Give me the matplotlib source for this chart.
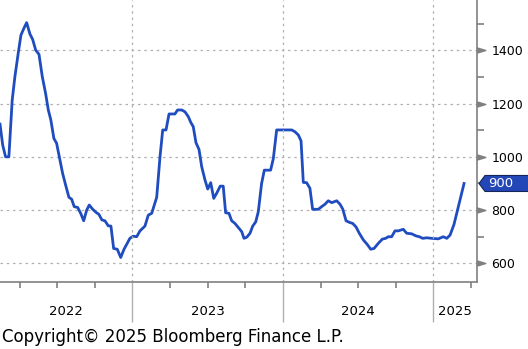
import matplotlib
matplotlib.use('Agg')
from matplotlib import pyplot as plt
from matplotlib.path import Path
from matplotlib.patches import Polygon
from matplotlib.transforms import blended_transform_factory, IdentityTransform

# time as decimal years
t = [2022.120, 2022.138, 2022.157, 2022.179, 2022.201, 2022.219, 2022.241, 2022.259,
     2022.279, 2022.297, 2022.319, 2022.337, 2022.357, 2022.379, 2022.401, 2022.423,
     2022.441, 2022.458, 2022.478, 2022.496, 2022.518, 2022.536, 2022.556, 2022.578,
     2022.596, 2022.613, 2022.636, 2022.656, 2022.676, 2022.696, 2022.713, 2022.736,
     2022.757, 2022.777, 2022.797, 2022.817, 2022.839, 2022.857, 2022.875, 2022.899,
     2022.922, 2022.944, 2022.983, 2023.005, 2023.028, 2023.050, 2023.083, 2023.105,
     2023.128, 2023.161, 2023.183, 2023.201, 2023.223, 2023.243, 2023.282, 2023.300,
     2023.327, 2023.349, 2023.371, 2023.387, 2023.404, 2023.422, 2023.442, 2023.460,
     2023.482, 2023.500, 2023.520, 2023.540, 2023.561, 2023.583, 2023.603, 2023.619,
     2023.641, 2023.659, 2023.681, 2023.703, 2023.726, 2023.741, 2023.759, 2023.781,
     2023.799, 2023.819, 2023.836, 2023.858, 2023.876, 2023.918, 2023.936, 2023.958,
     2024.058, 2024.080, 2024.102, 2024.120, 2024.135, 2024.157, 2024.179, 2024.197,
     2024.235, 2024.257, 2024.279, 2024.301, 2024.324, 2024.357, 2024.379, 2024.397,
     2024.419, 2024.441, 2024.463, 2024.485, 2024.507, 2024.534, 2024.560, 2024.583,
     2024.605, 2024.633, 2024.660, 2024.682, 2024.700, 2024.722, 2024.744, 2024.766,
     2024.799, 2024.822, 2024.855, 2024.884, 2024.906, 2024.928, 2024.955, 2024.988,
     2025.032, 2025.065, 2025.088, 2025.110, 2025.136, 2025.165, 2025.203]
vals = [1123, 1044, 1000, 1000, 1213, 1301, 1389, 1457,
        1483, 1504, 1461, 1441, 1401, 1385, 1301, 1238,
        1176, 1138, 1069, 1051, 988, 938, 894, 848,
        841, 813, 810, 788, 760, 800, 819, 803,
        792, 784, 763, 760, 741, 740, 656, 653,
        622, 653, 694, 702, 700, 722, 740, 781,
        788, 848, 1000, 1101, 1101, 1161, 1161, 1176,
        1176, 1169, 1151, 1130, 1113, 1053, 1028, 963,
        913, 879, 903, 844, 865, 890, 890, 790,
        788, 760, 750, 735, 719, 694, 698, 713,
        740, 756, 794, 900, 950, 950, 994, 1101,
        1101, 1094, 1082, 1060, 904, 903, 882, 803,
        803, 813, 822, 835, 828, 835, 822, 804,
        760, 754, 750, 737, 713, 688, 671, 653,
        656, 675, 691, 694, 700, 700, 722, 722,
        728, 713, 711, 703, 700, 694, 696, 694,
        692, 700, 694, 706, 746, 813, 900]

years = [2022, 2023, 2024, 2025]
major_y = [600, 800, 1000, 1200, 1400]
minor_y = [700, 900, 1100, 1300, 1500]
x0, x1 = 2022.120, 2025.289
blue = '#1f4cbf'
grey = '#808080'

fig = plt.figure(figsize=(5.28, 3.49), dpi=100)
ax = fig.add_axes([0, 1 - 282 / 349, 477 / 528, 282 / 349])
ax.plot(t, vals, color=blue, lw=2)
ax.set_xlim(x0, x1)
ax.set_ylim(530, 1589)

for s in ['top', 'left']:
    ax.spines[s].set_visible(False)
for s in ['bottom', 'right']:
    ax.spines[s].set_color(grey)
    ax.spines[s].set_linewidth(1.2)

# y axis on right, triangles for majors
ax.yaxis.tick_right()
ax.set_yticks(major_y)
ax.set_yticks(minor_y, minor=True)
ax.tick_params(axis='y', which='major', length=0, pad=10.5, labelsize=9)
ax.tick_params(axis='y', which='minor', length=5, color=grey, width=1.2)
ax.grid(axis='y', which='major', ls=(0, (2, 3)), color='#b0b0b0', lw=0.9)

tri = Path([(0, -0.3), (1, 0), (0, 0.3), (0, -0.3)],
           [Path.MOVETO, Path.LINETO, Path.LINETO, Path.CLOSEPOLY])
yb = blended_transform_factory(ax.transAxes, ax.transData)
ax.plot([1] * len(major_y), major_y, transform=yb, ls='none',
        marker=tri, ms=12, color=grey, clip_on=False)

# x axis: year separators and quarter ticks
ax.set_xticks(years[1:])
ax.set_xticklabels([])
ax.set_xticks([y + q for y in years for q in (0.25, 0.5, 0.75) if x0 < y + q < x1 + 0.01],
              minor=True)
ax.tick_params(axis='x', which='major', length=29, color='#b0b0b0', width=1)
ax.tick_params(axis='x', which='minor', length=4, color=grey, width=1.2)
for y in years[1:]:
    ax.axvline(y, ls=(0, (2, 3)), color='#b0b0b0', lw=0.9)

xb = blended_transform_factory(ax.transData, ax.transAxes)
for y in years:
    lo, hi = max(y, x0), min(y + 1, x1)
    ax.text((lo + hi) / 2, -0.105, str(y), transform=xb, ha='center', va='center',
            fontsize=9.5)

# last value tag
last = vals[-1]
px, py = yb.transform((1, last))
tag = Polygon([(px + 2, py), (px + 8, py + 8), (px + 60, py + 8),
               (px + 60, py - 8), (px + 8, py - 8)], closed=True,
              fc='#2447b8', ec='#16245a', lw=0.8, transform=IdentityTransform())
fig.patches.append(tag)
fig.text((px + 11) / 528, py / 349, f'{last}', color='white', fontsize=9.5,
         ha='left', va='center')

fig.text(0.003, 0.035, 'Copyright\u00a9 2025 Bloomberg Finance L.P.', fontsize=12,
         ha='left', va='center')

fig.savefig('out.png', dpi=100)
